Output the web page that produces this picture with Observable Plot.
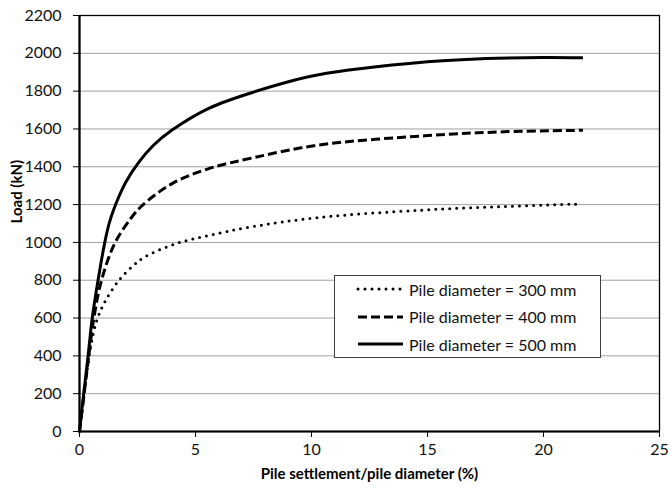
<!DOCTYPE html>
<html><head><meta charset="utf-8">
<script src="https://cdn.jsdelivr.net/npm/d3@7"></script>
<script src="https://cdn.jsdelivr.net/npm/@observablehq/plot@0.6"></script>
<style>
body{margin:0;background:#fff;}
#chart{position:relative;width:670px;height:491px;font-family:Lato,sans-serif;}
#chart svg{font-family:Lato,sans-serif;}
g[aria-label="y-axis tick label"] text, g[aria-label="x-axis tick label"] text{font-size:16px;fill:#111;}
#legend{position:absolute;left:334px;top:275px;width:267px;height:83px;border:1px solid #404040;background:#fff;box-sizing:border-box;font-size:16px;color:#111;}
#legend .row{position:absolute;left:21px;height:20px;display:flex;align-items:center;}
#legend svg{display:block;margin-right:5px;}
</style></head>
<body>
<div id="chart"></div>
<script>
const xTicks = [0, 5, 10, 15, 20, 25];
const yTicks = [0, 200, 400, 600, 800, 1000, 1200, 1400, 1600, 1800, 2000, 2200];
const xTitle = "Pile settlement/pile diameter (%)";
const yTitle = "Load (kN)";
const seriesNames = ["Pile diameter = 300 mm", "Pile diameter = 400 mm", "Pile diameter = 500 mm"];

const x300 = [0, 0.2, 0.42, 0.58, 0.78, 1.12, 1.69, 2.34, 2.84, 4.14, 5.57, 7.4, 10.25, 14.8, 18.3, 21.6];
const load300 = [0, 200, 400, 510, 600, 692, 798, 880, 925, 993, 1037, 1082, 1131, 1171, 1190, 1203];

const x400 = [0, 0.2, 0.4, 0.62, 0.95, 1.5, 2.2, 2.7, 3.99, 5.57, 7.5, 10.25, 15, 18.3, 21.7];
const load400 = [0, 200, 400, 600, 800, 990, 1125, 1195, 1311, 1390, 1448, 1514, 1565, 1585, 1593];

const x500 = [0, 0.18, 0.37, 0.55, 0.8, 1.09, 1.3, 1.69, 2.0, 2.56, 3.2, 3.99, 5.57, 7.5, 10.25, 15, 17.5, 20, 21.7];
const load500 = [0, 200, 400, 600, 800, 1000, 1110, 1240, 1320, 1425, 1515, 1594, 1709, 1795, 1885, 1955, 1972, 1978, 1976];

const styles = [
  {strokeWidth: 3, strokeDasharray: "0 7", strokeLinecap: "round"},
  {strokeWidth: 3, strokeDasharray: "9 4", strokeLinecap: "butt"},
  {strokeWidth: 3, strokeDasharray: null, strokeLinecap: "butt"}
];

const toRows = (xs, ys) => xs.map((x, i) => ({x, y: ys[i]}));
const tables = [toRows(x300, load300), toRows(x400, load400), toRows(x500, load500)];

const chart = Plot.plot({
  width: 670, height: 491,
  marginLeft: 79, marginRight: 11, marginTop: 15, marginBottom: 60,
  x: {domain: [0, 25]},
  y: {domain: [0, 2200]},
  marks: [
    Plot.gridY(yTicks, {stroke: "#a0a0a0", strokeOpacity: 1, strokeWidth: 1}),
    Plot.frame({stroke: "#000", strokeWidth: 1.3}),
    Plot.axisY(yTicks, {tickSize: 6, tickPadding: 12, tickFormat: d3.format("d"), label: null, stroke: "#000"}),
    Plot.axisX(xTicks, {tickSize: 6, tickPadding: 6, tickFormat: d3.format("d"), label: null, stroke: "#000"}),
    Plot.text([yTitle], {text: d => d, frameAnchor: "left", rotate: -90, dx: -62, fontSize: 15, fontWeight: "bold", fill: "#000"}),
    Plot.text([xTitle], {text: d => d, frameAnchor: "bottom", dy: 47, fontSize: 15, fontWeight: "bold", fill: "#000"}),
    Plot.ruleX([0], {strokeWidth: 2.2}),
    Plot.ruleY([0], {strokeWidth: 2.2}),
    ...tables.map((t, i) => Plot.line(t, {x: "x", y: "y", curve: "catmull-rom", stroke: "#000", ...styles[i]}))
  ]
});
const root = document.getElementById("chart");
root.appendChild(chart);

const legend = document.createElement("div");
legend.id = "legend";
seriesNames.forEach((name, i) => {
  const row = document.createElement("div");
  row.className = "row";
  row.style.top = (3 + i * 27.5) + "px";
  const s = styles[i];
  row.innerHTML = `<svg width="48" height="10"><line x1="2" x2="47" y1="5" y2="5" stroke="#000" stroke-width="3" ${s.strokeDasharray ? `stroke-dasharray="${s.strokeDasharray}"` : ""} stroke-linecap="${s.strokeLinecap}"/></svg><span>${name}</span>`;
  legend.appendChild(row);
});
root.appendChild(legend);
</script>
</body></html>
